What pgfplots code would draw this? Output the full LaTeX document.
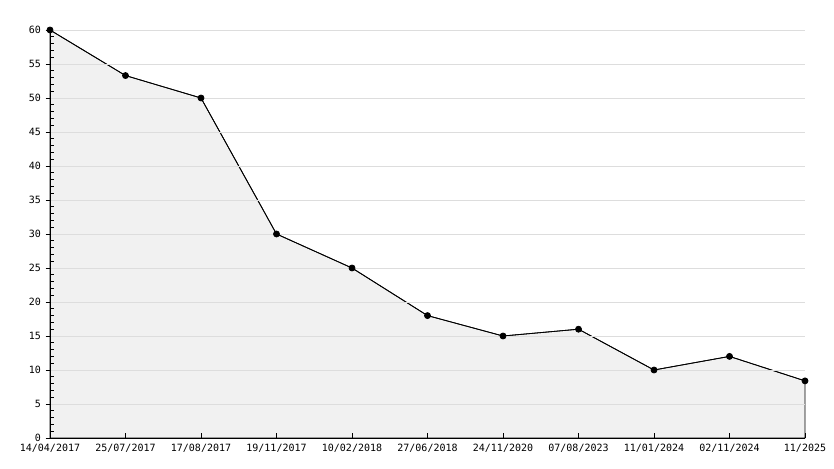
\documentclass[border=0pt]{standalone}
\usepackage{pgfplots}
\pgfplotsset{compat=1.18}
\usepackage{fontspec}
\setmainfont{DejaVu Sans Mono}
\definecolor{areafill}{HTML}{F1F1F1}
\definecolor{gridc}{HTML}{DDDDDD}
\begin{document}
\begin{tikzpicture}[x=1pt,y=1pt]
\begin{axis}[
  scale only axis,
  width=755pt, height=408pt,
  at={(50pt,30pt)}, anchor=south west,
  xmin=0, xmax=10, ymin=0, ymax=60,
  axis x line*=bottom, axis y line*=left,
  axis line style={-, black, line width=0.9pt},
  xtick={0,...,10},
  xticklabels={14/04/2017,25/07/2017,17/08/2017,19/11/2017,10/02/2018,27/06/2018,24/11/2020,07/08/2023,11/01/2024,02/11/2024,11/2025},
  ytick={0,5,...,60},
  extra y ticks={1,2,3,4,6,7,8,9,11,12,13,14,16,17,18,19,21,22,23,24,26,27,28,29,31,32,33,34,36,37,38,39,41,42,43,44,46,47,48,49,51,52,53,54,56,57,58,59},
  extra y tick labels={},
  extra y tick style={ytick align=inside, major tick length=3.5pt, grid=none},
  ymajorgrids, major grid style={gridc, line width=0.7pt},
  tick style={black, line width=0.7pt},
  major tick length=4.5pt,
  xtick align=inside,
  ytick align=outside,
  tick label style={font=\fontsize{10}{10}\selectfont},
  /pgf/number format/assume math mode=true,
  yticklabel style={xshift=-1pt},
  xticklabel style={yshift=-3pt},
  clip=false,
  axis on top,
]
\addplot[fill=areafill, draw=black, line width=0.8pt] coordinates {
(0,60) (1,53.3) (2,50) (3,30) (4,25) (5,18) (6,15) (7,16) (8,10) (9,12) (10,8.4)
} \closedcycle;
\addplot[black, line width=0.8pt, mark=*, mark size=3pt] coordinates {
(0,60) (1,53.3) (2,50) (3,30) (4,25) (5,18) (6,15) (7,16) (8,10) (9,12) (10,8.4)
};
\end{axis}
\path (0,0) rectangle (834pt,468pt);
\end{tikzpicture}
\end{document}
